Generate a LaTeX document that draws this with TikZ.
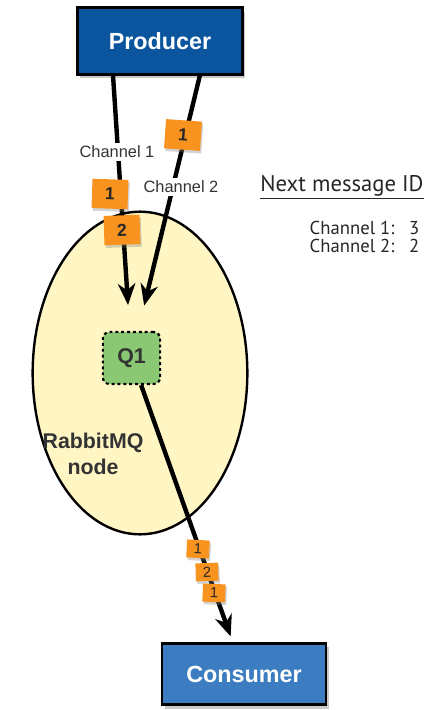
\documentclass[tikz,border=0pt]{standalone}
\usepackage{fontspec}
\setmainfont{Liberation Sans}
\newfontfamily\myriad{PT Sans}
\usetikzlibrary{shapes.geometric,shadows,arrows.meta}
\definecolor{prodblue}{HTML}{0B559F}
\definecolor{consblue}{HTML}{3C7CC0}
\definecolor{nodeyellow}{HTML}{FFF6C4}
\definecolor{qgreen}{HTML}{8BC874}
\definecolor{tagorange}{HTML}{F7931E}
\begin{document}
\begin{tikzpicture}[x=0.75pt, y=-0.75pt,
	box/.style={draw=black, line width=1.8pt, text=white, inner sep=0pt,
		font=\fontsize{17.5}{20}\selectfont\bfseries,
		drop shadow={opacity=0.3, fill=black!70, shadow xshift=2pt, shadow yshift=-3pt}},
	tag/.style={fill=tagorange, minimum width=27pt, minimum height=22pt, inner sep=0pt,
		font=\fontsize{13}{14}\selectfont\bfseries, text=black!85,
		drop shadow={opacity=0.35, shadow xshift=1pt, shadow yshift=-2pt}},
	smalltag/.style={tag, minimum width=17pt, minimum height=13.5pt,
		font=\fontsize{11}{12}\selectfont},
	chan/.style={-{Stealth[length=16pt, width=13pt, inset=5pt]}},
	lbl/.style={fill=white, inner sep=2pt, font=\fontsize{12.3}{14}\selectfont, text=black!80}]
	\useasboundingbox (0,0) rectangle (433,710);
	
	\node[box, fill=prodblue, minimum width=124pt, minimum height=50pt] (prod) at (160,41) {Producer};
	\node[box, fill=consblue, minimum width=123pt, minimum height=46pt] (cons) at (244,674) {Consumer};
	\node[ellipse, draw, line width=1.8pt, fill=nodeyellow, minimum width=161pt, minimum height=242pt] (rmq) at (140,373) {};
	\node[fill=qgreen, draw, line width=1.6pt, dash pattern=on 2.2pt off 2.2pt, rounded corners=5pt,
		minimum width=43pt, minimum height=39pt, inner sep=0pt, text=black!80,
		font=\fontsize{16}{18}\selectfont\bfseries] (q1) at (131.5,358) {Q1};
	\node[align=center, text=black!80, font=\fontsize{16}{19}\selectfont\bfseries] (rlabel) at (93,454) {RabbitMQ\\node};
	
	\coordinate (c1) at (113,75);
	\coordinate (c2) at (200,75);
	
	\path[draw, line width=3.3pt]
	(c1) edge[chan, shorten >=19.5pt] (q1)
	(c2) edge[chan, shorten >=19.5pt] (q1)
	(q1) edge[chan, shorten >=4.5pt] (cons)
	;
	
	% channel names
	\node[lbl] (l1) at (117,152) {Channel 1};
	\node[lbl] (l2) at (181,187) {Channel 2};
	
	% messages in flight
	\node[tag, rotate=-4] (t0) at (183,135) {1};
	\node[tag, rotate=-2] (t1) at (110,194) {1};
	\node[tag, rotate=2] (t2) at (122,230) {2};
	\node[smalltag, rotate=-3] (t3) at (198,549) {1};
	\node[smalltag, rotate=2] (t4) at (207,572) {2};
	\node[smalltag, rotate=-2] (t5) at (214,593) {1};
	
	\node[text=black!85, font=\myriad\fontsize{17}{19}\selectfont] (nmid) at (342,187) {\underline{Next message ID}};
	\node[anchor=north east, text=black!85, font=\myriad\fontsize{14}{12.75}\selectfont] (ids) at (424,216)
		{\begin{tabular}{@{}l@{\hspace{11pt}}l@{}}Channel 1: & 3\\ Channel 2: & 2\end{tabular}};
\end{tikzpicture}
\end{document}
